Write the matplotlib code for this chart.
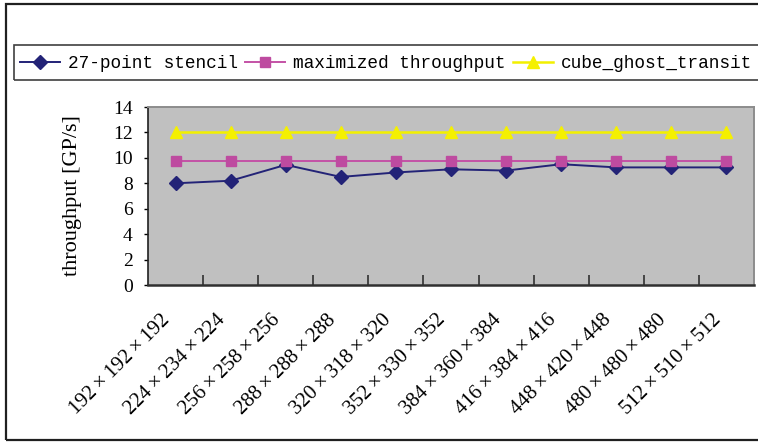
import matplotlib
matplotlib.use("Agg")
import matplotlib.pyplot as plt
from matplotlib.patches import Rectangle
from matplotlib.transforms import ScaledTranslation

# problem sizes (grid dimensions) on the x axis
sizes = ["192×192×192", "224×234×224", "256×258×256", "288×288×288",
         "320×318×320", "352×330×352", "384×360×384", "416×384×416",
         "448×420×448", "480×480×480", "512×510×512"]

# throughput in GP/s
stencil_27pt = [8.0, 8.2, 9.45, 8.5, 8.85, 9.1, 9.0, 9.5, 9.25, 9.25, 9.25]
max_throughput = [9.78, 9.78, 9.78, 9.78, 9.78, 9.78, 9.78, 9.78, 9.78, 9.78, 9.78]
cube_ghost = [12.0, 12.0, 12.0, 12.0, 12.0, 12.0, 12.0, 12.0, 12.0, 12.0, 12.0]

series_names = ["27-point stencil", "maximized throughput", "cube_ghost_transit"]

W, H = 758, 443
fig = plt.figure(figsize=(W / 100, H / 100), dpi=100)

# outer chart frame (right side runs off the canvas)
fig.patches.append(Rectangle((6 / W, 3 / H), 2.0, 436 / H, transform=fig.transFigure,
                             fill=False, edgecolor="#202020", linewidth=1.6))
# legend frame
fig.patches.append(Rectangle((14 / W, 1 - 80 / H), 2.0, 35 / H, transform=fig.transFigure,
                             fill=False, edgecolor="#404040", linewidth=1.2))

ax = fig.add_axes([148 / W, 1 - 285 / H, (754 - 148) / W, (285 - 107) / H])
ax.set_facecolor("#C0C0C0")

x = list(range(len(sizes)))
l1, = ax.plot(x, stencil_27pt, color="#232377", linewidth=1.4, marker="D",
              markersize=7, markerfacecolor="#232377", markeredgecolor="#232377")
l2, = ax.plot(x, max_throughput, color="#C452A6", linewidth=1.4, marker="s",
              markersize=7, markerfacecolor="#BE4BA0", markeredgecolor="#BE4BA0")
l3, = ax.plot(x, cube_ghost, color="#F2F000", linewidth=1.8, marker="^",
              markersize=9, markerfacecolor="#F5F000", markeredgecolor="#F5F000")

ax.set_xlim(-0.5, len(sizes) - 0.5)
ax.set_ylim(0, 14)
ax.set_yticks(range(0, 15, 2))

serif = ["Liberation Serif", "DejaVu Serif"]
ax.set_yticklabels([str(v) for v in range(0, 15, 2)], family=serif, size=14)
ax.tick_params(axis="y", direction="out", length=3, width=1, pad=8)

# thin spaces around the multiplication sign keep it visually wide
spaced = [s.replace("×", "\u2009×\u2009") for s in sizes]
ax.set_xticks(x)
ax.set_xticklabels(spaced, family=serif, size=15, rotation=45, ha="right",
                   va="center", rotation_mode="anchor")
ax.tick_params(axis="x", length=0, pad=14)
shift = ScaledTranslation(-8 / 100, -13 / 100, fig.dpi_scale_trans)
for lbl in ax.get_xticklabels():
    lbl.set_transform(lbl.get_transform() + shift)

ax.set_xticks([i + 0.5 for i in x[:-1]], minor=True)
ax.tick_params(axis="x", which="minor", direction="in", length=7, width=1.2,
               color="#303030")

ax.spines["left"].set_color("#202020")
ax.spines["left"].set_linewidth(1.2)
ax.spines["bottom"].set_color("#303030")
ax.spines["bottom"].set_linewidth(1.8)
for side in ("top", "right"):
    ax.spines[side].set_color("#8C8C8C")
    ax.spines[side].set_linewidth(1.4)

ax.set_ylabel("throughput [GP/s]", family=serif, size=16)
ax.yaxis.set_label_coords(-0.109, 0.5)

fig.legend([l1, l2, l3], series_names, loc="center left",
           bbox_to_anchor=(20 / W, 1 - 63.5 / H), ncol=3, frameon=False,
           prop=dict(family="Liberation Mono", size=12.8),
           handlelength=2.25, handletextpad=0.45, columnspacing=0.4,
           borderpad=0, borderaxespad=0)

fig.savefig("out.png", dpi=100)
